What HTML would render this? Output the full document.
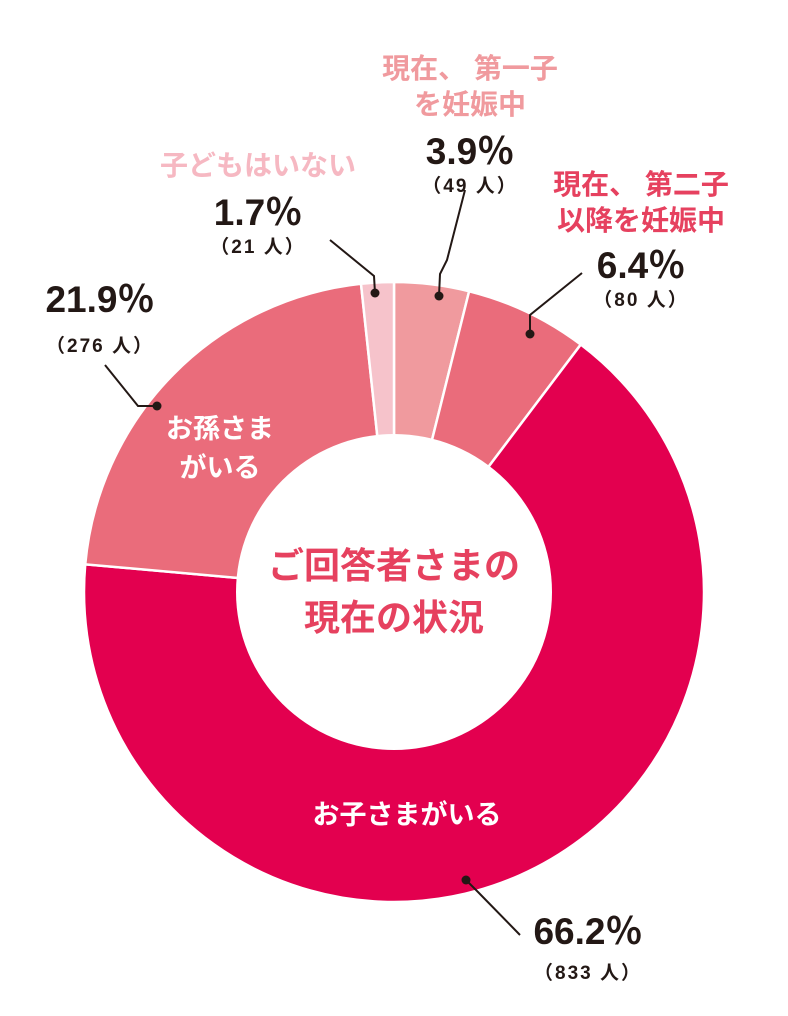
<!DOCTYPE html>
<html><head><meta charset="utf-8"><style>
body{margin:0;background:#fff}
svg{display:block}
text{font-family:"Liberation Sans","Noto Sans CJK JP",sans-serif;font-weight:bold}
</style></head><body>
<svg id="c" width="788" height="1016" viewBox="0 0 788 1016">
<g id="slices"></g>
<circle cx="394" cy="592" r="158" fill="#fff"/>
<text x="394" y="578" font-size="36" fill="#e6415f" text-anchor="middle">ご回答者さまの</text>
<text x="394" y="630" font-size="36" fill="#e6415f" text-anchor="middle">現在の状況</text>
<g fill="none" stroke="#231815" stroke-width="2">
<polyline points="375,293 374,276 330,240"/>
<polyline points="439,296 440,274 447,260 465,190"/>
<polyline points="530,334 530,315 582,273"/>
<polyline points="157,406 138,406 105,365"/>
<polyline points="466,880 478,892 520,935"/>
</g>
<g fill="#231815">
<circle cx="375" cy="293" r="4.5"/><circle cx="439" cy="296" r="4.5"/><circle cx="530" cy="334" r="4.5"/><circle cx="157" cy="406" r="4.5"/><circle cx="466" cy="880" r="4.5"/>
</g>
<g fill="#f09a9e" font-size="28">
<text x="470" y="78" text-anchor="middle">現在、 第一子</text>
<text x="470" y="114" text-anchor="middle">を妊娠中</text>
</g>
<text x="258" y="175" text-anchor="middle" font-size="28" fill="#f6b8c2">子どもはいない</text>
<g fill="#e6415f" font-size="28">
<text x="641" y="194" text-anchor="middle">現在、 第二子</text>
<text x="641" y="230" text-anchor="middle">以降を妊娠中</text>
</g>
<g fill="#231815">
<text x="470" y="164" text-anchor="middle" font-size="37">3.9％</text>
<text x="470" y="192" text-anchor="middle" font-size="19" letter-spacing="2">（49 人）</text>
<text x="258" y="225" text-anchor="middle" font-size="37">1.7％</text>
<text x="258" y="253" text-anchor="middle" font-size="19" letter-spacing="2">（21 人）</text>
<text x="641" y="278" text-anchor="middle" font-size="37">6.4％</text>
<text x="641" y="306" text-anchor="middle" font-size="19" letter-spacing="2">（80 人）</text>
<text x="100" y="312" text-anchor="middle" font-size="37">21.9％</text>
<text x="100" y="352" text-anchor="middle" font-size="19" letter-spacing="2">（276 人）</text>
<text x="588" y="944" text-anchor="middle" font-size="37">66.2％</text>
<text x="588" y="979" text-anchor="middle" font-size="19" letter-spacing="2">（833 人）</text>
</g>
<g fill="#fff" font-size="27">
<text x="220" y="438" text-anchor="middle">お孫さま</text>
<text x="220" y="477" text-anchor="middle">がいる</text>
<text x="407" y="824" text-anchor="middle">お子さまがいる</text>
</g>
</svg>
<script>
const categories=["first-pregnant","second-pregnant","has-children","has-grandchildren","no-children"];
const values=[3.9,6.4,66.2,21.9,1.7];
const colors=["#f09a9e","#ea6c7b","#e3004f","#ea6c7b","#f6c3cb"];
const cx=394,cy=592,R=310;
const total=values.reduce((a,b)=>a+b,0);
const g=document.getElementById('slices');
let a0=0;
function pt(a,r){const t=a/total*2*Math.PI;return [cx+r*Math.sin(t),cy-r*Math.cos(t)];}
values.forEach((v,i)=>{
  const a1=a0+v;const p0=pt(a0,R),p1=pt(a1,R);
  const large=v/total>0.5?1:0;
  const p=document.createElementNS('http://www.w3.org/2000/svg','path');
  p.setAttribute('d',`M${cx},${cy} L${p0[0]},${p0[1]} A${R},${R} 0 ${large} 1 ${p1[0]},${p1[1]} Z`);
  p.setAttribute('fill',colors[i]);
  p.setAttribute('stroke','#fff');
  p.setAttribute('stroke-width','2.5');
  
  
  g.appendChild(p);
  a0=a1;
});
</script>
</body></html>
